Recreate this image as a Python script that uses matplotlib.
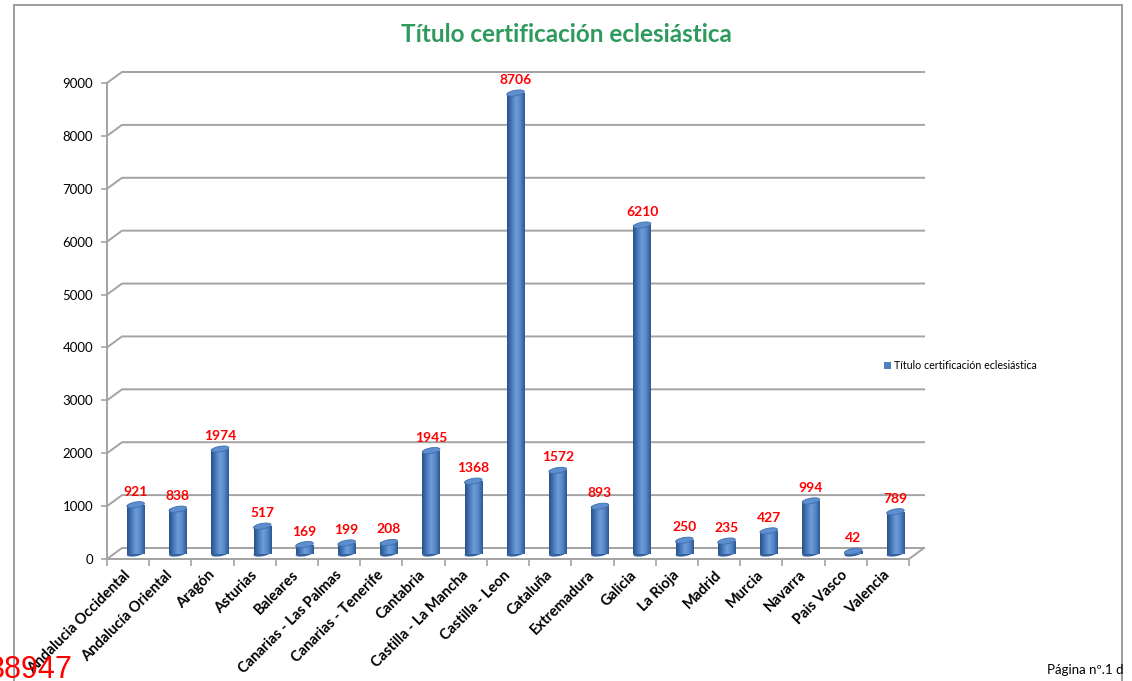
import numpy as np
import matplotlib
matplotlib.use('Agg')
import matplotlib.pyplot as plt
from matplotlib.patches import Ellipse, Rectangle, Patch
from matplotlib.colors import LinearSegmentedColormap
from matplotlib.transforms import ScaledTranslation

plt.rcParams['font.family'] = ['Lato', 'DejaVu Sans']

# data
regions = ['Andalucia Occidental', 'Andalucía Oriental', 'Aragón', 'Asturias', 'Baleares',
           'Canarias - Las Palmas', 'Canarias - Tenerife', 'Cantabria', 'Castilla - La Mancha',
           'Castilla - Leon', 'Cataluña', 'Extremadura', 'Galicia', 'La Rioja', 'Madrid',
           'Murcia', 'Navarra', 'Pais Vasco', 'Valencia']
values = [921, 838, 1974, 517, 169, 199, 208, 1945, 1368, 8706, 1572, 893, 6210,
          250, 235, 427, 994, 42, 789]
yticks = list(range(0, 9001, 1000))
title = 'Título certificación eclesiástica'
total_text = '38947'
page_text = 'Página nº.1 d'

W, H = 1132, 681
fig = plt.figure(figsize=(W / 100, H / 100), dpi=100)


def fx(px):
    return px / W


def fy(py):
    return 1 - py / H


ax = fig.add_axes([fx(107), fy(559), fx(909) - fx(107), fy(83) - fy(559)])
n = len(values)
grid_col = '#a3a3a3'

# depth of the fake 3D box, in data units (15 px right, 11 px up)
dx = 15 / ((909 - 107) / n)
dy = 11 * 9000 / (559 - 83)

# back wall gridlines
for v in yticks:
    ax.plot([-0.5, -0.5 + dx, n - 0.5 + dx], [v, v + dy, v + dy],
            color=grid_col, lw=1.4, clip_on=False, zorder=1)
# floor right edge
ax.plot([n - 0.5, n - 0.5 + dx], [0, dy], color=grid_col, lw=1.4, clip_on=False, zorder=1)

# cylinders
cyl = LinearSegmentedColormap.from_list('cyl', ['#2a5188', '#4677b8', '#6e9dda', '#5587c8', '#2d5892'])
grad = np.linspace(0, 1, 64).reshape(1, -1)
xc = np.arange(n) + dx / 2
bw = 0.41
bars = ax.bar(xc, values, width=bw, bottom=dy / 2, color='#4f81bd', zorder=3)
for x, v, rect in zip(xc, values, bars):
    im = ax.imshow(grad, cmap=cyl, extent=[x - bw / 2, x + bw / 2, dy / 2, v + dy / 2],
                   aspect='auto', zorder=3.1)
    im.set_clip_path(rect)
    base = Ellipse((0, 0), 0.178, 0.055, angle=10, facecolor='#33629e', edgecolor='none',
                   transform=fig.dpi_scale_trans + ScaledTranslation(x, dy / 2, ax.transData),
                   zorder=2.9)
    ax.add_artist(base)
    top = Ellipse((0, 0), 0.178, 0.055, angle=10, facecolor='#5d8fd0', edgecolor='#3f6eaa',
                  lw=0.6, transform=fig.dpi_scale_trans + ScaledTranslation(x, v + dy / 2, ax.transData),
                  zorder=3.2)
    ax.add_artist(top)
    ax.annotate(str(v), (x, v + dy / 2), xytext=(0, 7), textcoords='offset pixels',
                ha='center', va='bottom', color='#ff0000', fontweight='bold', fontsize=10)

ax.set_xlim(-0.5, n - 0.5)
ax.set_ylim(0, 9000)

for sp in ['top', 'right']:
    ax.spines[sp].set_visible(False)
for sp in ['left', 'bottom']:
    ax.spines[sp].set_color(grid_col)
    ax.spines[sp].set_linewidth(1.4)

ax.set_yticks(yticks)
ax.tick_params(axis='y', length=4, width=1.2, color=grid_col, labelsize=9.5, pad=6)
ax.set_xticks(np.arange(n + 1) - 0.5)
ax.set_xticklabels([])
ax.tick_params(axis='x', which='major', length=5, width=1.2, color=grid_col)
ax.set_xticks(np.arange(n), minor=True)
ax.set_xticklabels(regions, minor=True, rotation=45, ha='right', va='center',
                   rotation_mode='anchor', fontweight='bold', fontsize=10.5)
ax.tick_params(axis='x', which='minor', length=0, pad=10)
ax.set_facecolor('none')

fig.text(0.5, fy(34), title, ha='center', va='center', color='#2f9a5e',
         fontweight='bold', fontsize=17.5)

fig.legend(handles=[Patch(facecolor='#4f81bd', label=title)], loc='center left',
           bbox_to_anchor=(fx(884), fy(366)), frameon=False, fontsize=7.7,
           handlelength=0.65, handleheight=0.65, handletextpad=0.3,
           borderpad=0, borderaxespad=0)

# chart frame
fig.add_artist(Rectangle((fx(14), fy(720)), fx(1122) - fx(14), fy(5) - fy(720),
                         transform=fig.transFigure, fill=False, edgecolor='#8c8c8c', lw=1.2))

fig.text(fx(73), fy(678), total_text, ha='right', va='baseline', color='#ff0000',
         fontsize=22, family='Liberation Sans')
fig.text(fx(1047), fy(674), page_text, ha='left', va='baseline', fontsize=9.5)

fig.savefig('out.png', dpi=100)
